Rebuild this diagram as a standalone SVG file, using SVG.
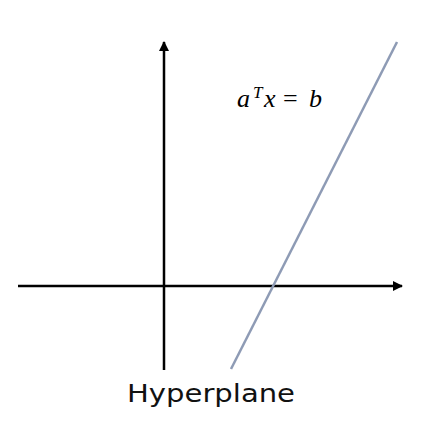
<svg xmlns="http://www.w3.org/2000/svg" width="442" height="430" viewBox="0 0 442 430">
<defs>
<marker id="arr" viewBox="0 0 10 10" refX="9" refY="5" markerWidth="10" markerHeight="10" markerUnits="userSpaceOnUse" orient="auto"><path d="M0,0 L10,5 L0,10 z" fill="#000"/></marker>
</defs>
<style>
.axis{stroke:#000;stroke-width:2.5;fill:none}
.hp{stroke:#8e9bb5;stroke-width:2.5;fill:none}
.math{font-family:"Liberation Serif","Times New Roman",serif;font-style:italic;font-size:26px;fill:#000}
.lbl{font-family:"DejaVu Sans","Liberation Sans",sans-serif;font-size:24px;fill:#111}
</style>
<rect width="442" height="430" fill="#fff"/>
<g id="connectors">
<line class="axis" x1="18" y1="286" x2="402" y2="286" marker-end="url(#arr)"/>
<line class="axis" x1="164" y1="370" x2="164" y2="42" marker-end="url(#arr)"/>
</g>
<g id="hyperplane">
<line class="hp" x1="231" y1="369" x2="397" y2="42"/>
</g>
<g id="equation">
<text class="math" y="107"><tspan x="237">a</tspan><tspan x="253" y="98" font-size="17">T</tspan><tspan x="264" y="107">x</tspan><tspan x="283" font-style="normal">=</tspan><tspan x="309">b</tspan></text>
</g>
<g id="label">
<text class="lbl" x="127" y="402" textLength="168" lengthAdjust="spacingAndGlyphs">Hyperplane</text>
</g>
</svg>
